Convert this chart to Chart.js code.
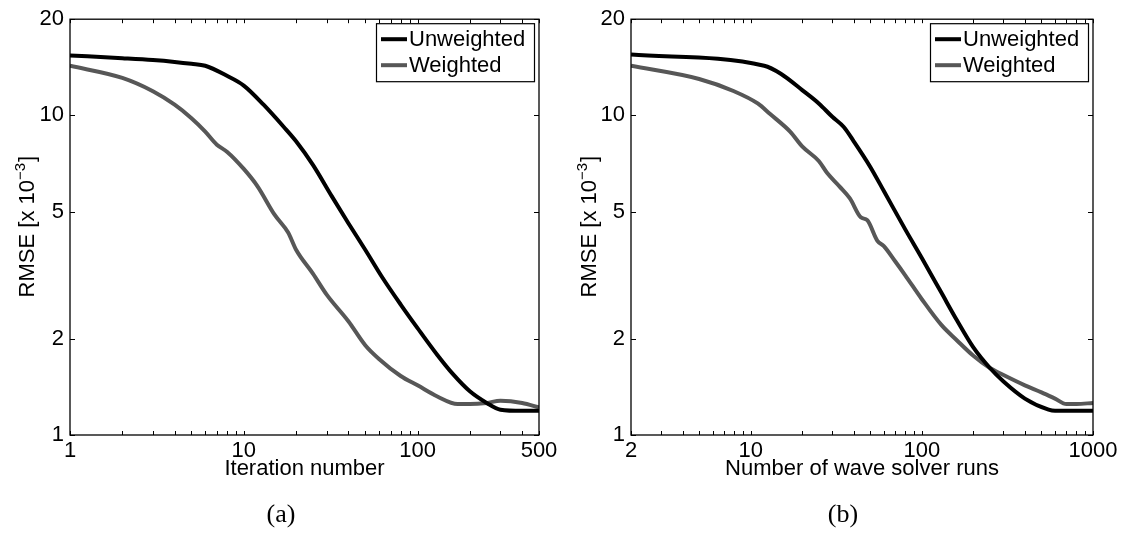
<!DOCTYPE html>
<html>
<head>
<meta charset="utf-8">
<script src="https://cdn.jsdelivr.net/npm/chart.js@4.4.1/dist/chart.umd.min.js"></script>
<style>
  body { margin: 0; background: #fff; }
  #wrap { position: relative; width: 1124px; height: 540px; background: #fff; }
  canvas { position: absolute; top: 0; }
  #c1 { left: 0; }
  #c2 { left: 562px; }
  .cap { position: absolute; top: 499px; width: 562px; text-align: center;
         font: 26px 'Liberation Serif', 'DejaVu Serif', serif; color: #000; }
</style>
</head>
<body>
<div id="wrap">
  <canvas id="c1" width="562" height="540"></canvas>
  <canvas id="c2" width="562" height="540"></canvas>
  <div class="cap" style="left:0">(a)</div>
  <div class="cap" style="left:562px">(b)</div>
</div>
<script>
// panel (a): RMSE vs iteration number
const iterUnwX = [1, 2, 3, 4, 5, 6, 8, 10, 13, 17, 20, 25, 32, 40, 50, 63, 80, 100, 130, 160, 200, 250, 300, 400, 500];
const iterUnwY = [15.4, 15.1, 14.9, 14.7, 14.5, 14.3, 13.3, 12.4, 10.8, 9.2, 8.3, 7.0, 5.6, 4.6, 3.8, 3.1, 2.56, 2.16, 1.78, 1.55, 1.37, 1.26, 1.20, 1.19, 1.19];
const iterWX = [1, 2, 3, 4, 5, 6, 7, 8, 10, 12, 15, 18, 20, 25, 30, 40, 50, 60, 80, 100, 130, 170, 200, 250, 300, 400, 500];
const iterWY = [14.3, 13.1, 11.9, 10.8, 9.8, 8.9, 8.1, 7.7, 6.8, 6.0, 4.9, 4.3, 3.8, 3.2, 2.75, 2.27, 1.91, 1.73, 1.53, 1.43, 1.32, 1.25, 1.25, 1.26, 1.28, 1.26, 1.22];

// panel (b): RMSE vs number of wave solver runs
const runUnwX = [2, 12, 15, 20, 25, 30, 35, 40, 50, 60, 80, 100, 130, 160, 200, 250, 300, 400, 550, 600, 1000];
const runUnwY = [15.5, 14.3, 13.5, 12.0, 10.9, 9.9, 9.2, 8.3, 6.9, 5.8, 4.4, 3.58, 2.79, 2.29, 1.88, 1.62, 1.47, 1.30, 1.20, 1.19, 1.19];
const runWX = [2, 5, 8, 11, 13, 17, 20, 25, 28, 33, 38, 44, 48, 55, 60, 70, 80, 100, 130, 160, 200, 250, 300, 400, 500, 600, 700, 800, 1000];
const runWY = [14.3, 13.0, 11.9, 10.9, 10.1, 8.9, 8.0, 7.2, 6.6, 6.0, 5.5, 4.8, 4.7, 4.05, 3.9, 3.49, 3.16, 2.66, 2.21, 1.98, 1.77, 1.62, 1.54, 1.43, 1.36, 1.30, 1.25, 1.25, 1.26];

const seriesNames = ['Unweighted', 'Weighted'];
const seriesColors = ['#000000', '#575757'];

const yTicks = [1, 2, 5, 10, 20];
const xTicksA = [1, 10, 100, 500];
const xTicksB = [2, 10, 100, 1000];

const FONT = "'Liberation Sans', Arial, sans-serif";

function pts(xs, ys) {
    return xs.map((x, i) => ({ x: x, y: ys[i] }));
}

// every integer multiple of a power of ten inside [lo, hi]
function minorTicks(lo, hi) {
    const out = [];
    for (let d = 1; d <= hi; d *= 10) {
        for (let k = 1; k < 10; k++) {
            const v = k * d;
            if (v >= lo && v <= hi) out.push(v);
        }
    }
    return out;
}

// box around the plot, inward ticks on all four sides, legend in the corner,
// and the y label with a proper superscript exponent
const framePlugin = {
    id: 'frame',
    afterDraw(chart) {
        const ctx = chart.ctx;
        const a = chart.chartArea;
        const xs = chart.scales.x, ys = chart.scales.y;
        ctx.save();
        ctx.strokeStyle = '#000';
        ctx.lineWidth = 1.3;
        ctx.strokeRect(a.left, a.top, a.right - a.left, a.bottom - a.top);

        ctx.beginPath();
        minorTicks(xs.min, xs.max).forEach(v => {
            const px = Math.round(xs.getPixelForValue(v)) + 0.5;
            ctx.moveTo(px, a.bottom); ctx.lineTo(px, a.bottom - 4);
            ctx.moveTo(px, a.top); ctx.lineTo(px, a.top + 4);
        });
        yTicks.forEach(v => {
            const py = Math.round(ys.getPixelForValue(v)) + 0.5;
            ctx.moveTo(a.left, py); ctx.lineTo(a.left + 5, py);
            ctx.moveTo(a.right, py); ctx.lineTo(a.right - 5, py);
        });
        ctx.lineWidth = 1;
        ctx.stroke();

        // legend
        const bw = 158, bh = 58;
        const bx = a.right - 5 - bw, by = a.top + 4;
        ctx.fillStyle = '#fff';
        ctx.fillRect(bx, by, bw, bh);
        ctx.lineWidth = 1.2;
        ctx.strokeRect(bx + 0.5, by + 0.5, bw, bh);
        ctx.font = '22px ' + FONT;
        ctx.textBaseline = 'middle';
        chart.data.datasets.forEach((ds, i) => {
            const cy = by + 16 + i * 26;
            ctx.strokeStyle = ds.borderColor;
            ctx.lineWidth = 4;
            ctx.beginPath();
            ctx.moveTo(bx + 5, cy); ctx.lineTo(bx + 31, cy);
            ctx.stroke();
            ctx.fillStyle = '#000';
            ctx.fillText(ds.label, bx + 33, cy + 1);
        });

        // y axis label: "RMSE [x 10" + raised "−3" + "]"
        const parts = [
            { t: 'RMSE [x 10', size: 22, rise: 0 },
            { t: '\u22123', size: 15, rise: 9 },
            { t: ']', size: 22, rise: 0 }
        ];
        let total = 0;
        parts.forEach(p => { ctx.font = p.size + 'px ' + FONT; p.w = ctx.measureText(p.t).width; total += p.w; });
        ctx.translate(ys.left + 26, (a.top + a.bottom) / 2);
        ctx.rotate(-Math.PI / 2);
        ctx.fillStyle = '#000';
        ctx.textBaseline = 'alphabetic';
        let cx = -total / 2;
        parts.forEach(p => {
            ctx.font = p.size + 'px ' + FONT;
            ctx.fillText(p.t, cx, 8 - p.rise);
            cx += p.w + (p.rise ? 1 : 0);
        });
        ctx.restore();
    }
};

function makeChart(id, unwPts, wPts, xMin, xMax, xTicks, xTitle, pad, yWidth) {
    return new Chart(document.getElementById(id), {
        type: 'line',
        data: {
            datasets: [
                { label: seriesNames[0], data: unwPts, borderColor: seriesColors[0] },
                { label: seriesNames[1], data: wPts, borderColor: seriesColors[1] }
            ].map(ds => Object.assign(ds, {
                borderWidth: 4,
                pointRadius: 0,
                cubicInterpolationMode: 'monotone',
                borderJoinStyle: 'round',
                fill: false
            }))
        },
        options: {
            responsive: false,
            animation: false,
            layout: { padding: pad },
            plugins: { legend: { display: false }, tooltip: { enabled: false } },
            scales: {
                x: {
                    type: 'logarithmic',
                    min: xMin, max: xMax,
                    grid: { display: false, drawTicks: false },
                    border: { display: false },
                    afterBuildTicks: s => { s.ticks = xTicks.map(v => ({ value: v })); },
                    afterFit: s => { s.height = 47; },
                    ticks: {
                        autoSkip: false, maxRotation: 0, padding: 3, color: '#000',
                        font: { family: FONT, size: 22 },
                        callback: v => String(v)
                    },
                    title: {
                        display: true, text: xTitle, color: '#000',
                        font: { family: FONT, size: 22 }, padding: 0
                    }
                },
                y: {
                    type: 'logarithmic',
                    min: 1, max: 20,
                    grid: { display: false, drawTicks: false },
                    border: { display: false },
                    afterBuildTicks: s => { s.ticks = yTicks.map(v => ({ value: v })); },
                    afterFit: s => { s.width = yWidth; },
                    ticks: {
                        autoSkip: false, padding: 6, color: '#000',
                        font: { family: FONT, size: 22 },
                        callback: v => String(v)
                    }
                }
            }
        },
        plugins: [framePlugin]
    });
}

makeChart('c1', pts(iterUnwX, iterUnwY), pts(iterWX, iterWY), 1, 500, xTicksA,
    'Iteration number', { left: 0, right: 23, top: 13, bottom: 58 }, 70);
makeChart('c2', pts(runUnwX, runUnwY), pts(runWX, runWY), 2, 1000, xTicksB,
    'Number of wave solver runs', { left: 0, right: 31, top: 19, bottom: 58 }, 69);
</script>
</body>
</html>
